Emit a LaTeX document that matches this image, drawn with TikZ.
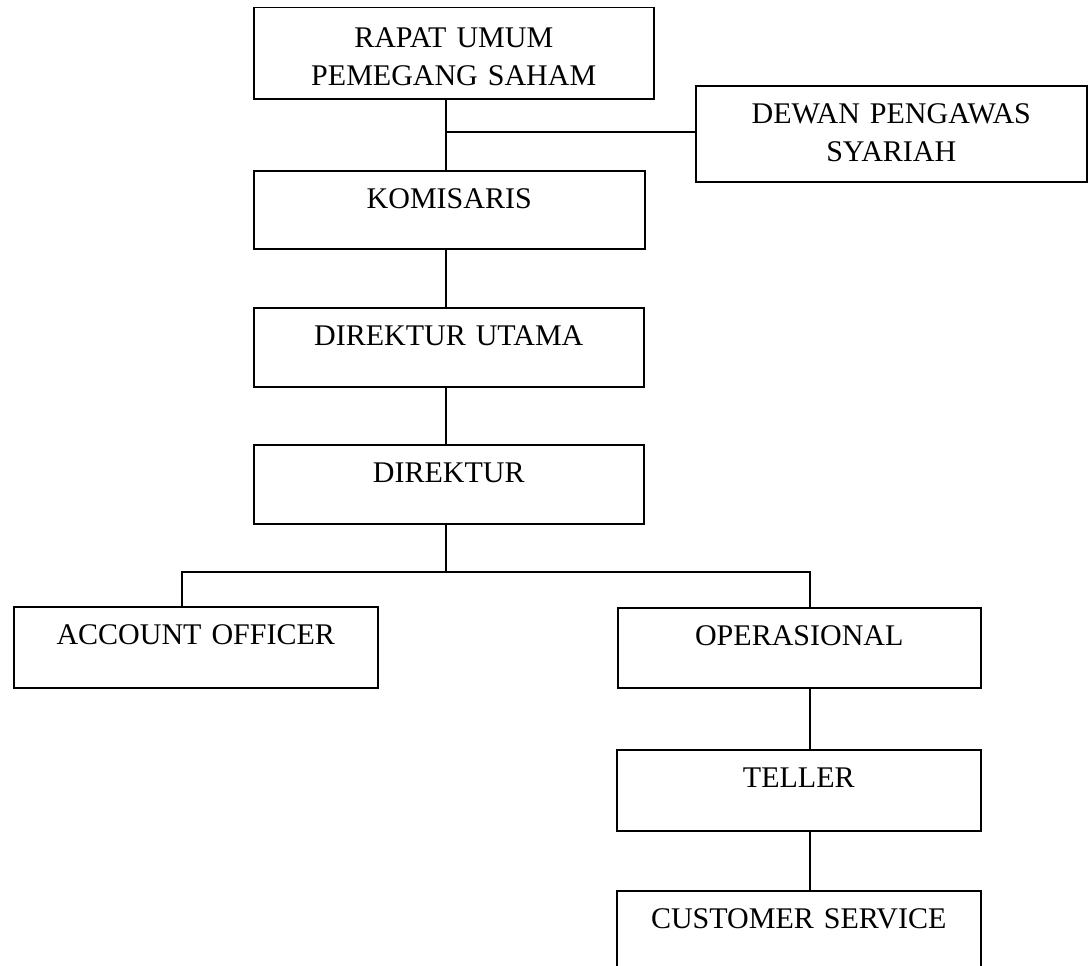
\documentclass[tikz,border=0pt]{standalone}
\usepackage{fontspec}
\setmainfont{Liberation Serif}
\usepackage{tikz}
\usetikzlibrary{positioning,calc}

\tikzset{
    orgbox/.style 2 args={draw, line width=1.5pt, inner sep=0pt, anchor=north west,
        align=center, text width=#1, text height=38pt, text depth=#2},
    link/.style={line width=1.4pt}
}

\begin{document}
\begin{tikzpicture}[x=1pt,y=-1pt,font=\fontsize{30pt}{38pt}\selectfont]
    \useasboundingbox (0,0) rectangle (1092,966);

    % Top level
    \node[orgbox={400pt}{51pt}, text height=40pt] (rups) at (253,7) {RAPAT UMUM\\PEMEGANG SAHAM};
    \node[orgbox={391pt}{58pt}] (dps) at (695,85) {DEWAN PENGAWAS\\SYARIAH};

    % Main column
    \node[orgbox={391pt}{40pt}] (kom) at (253,170) {KOMISARIS};
    \node[orgbox={390pt}{41pt}] (diru) at (253,307) {DIREKTUR UTAMA};
    \node[orgbox={390pt}{41pt}] (dir) at (253,444) {DIREKTUR};

    % Divisions
    \node[orgbox={364pt}{43pt}] (ao) at (13,606) {ACCOUNT OFFICER};
    \node[orgbox={363pt}{42pt}] (ops) at (617,607) {OPERASIONAL};
    \node[orgbox={364pt}{43pt}] (tel) at (616,749) {TELLER};
    \node[orgbox={364pt}{42pt}] (cs) at (616,890) {CUSTOMER SERVICE};

    % Junctions
    \coordinate (trunk) at (446,132);
    \coordinate (split) at (446,572);
    \coordinate (aotop) at (182,572);
    \coordinate (opstop) at (810,572);

    % Connectors
    \draw[link] (rups.south -| trunk) -- (kom.north -| trunk);
    \draw[link] (trunk) -- (trunk -| dps.west);
    \foreach \a/\b in {kom/diru, diru/dir} {
        \draw[link] (\a.south -| trunk) -- (\b.north -| trunk);
    }
    \draw[link] (dir.south -| split) -- (split);
    \draw[link] (aotop |- ao.north) -- (aotop) -- (opstop) -- (opstop |- ops.north);
    \foreach \a/\b in {ops/tel, tel/cs} {
        \draw[link] (\a.south -| opstop) -- (\b.north -| opstop);
    }
\end{tikzpicture}
\end{document}
